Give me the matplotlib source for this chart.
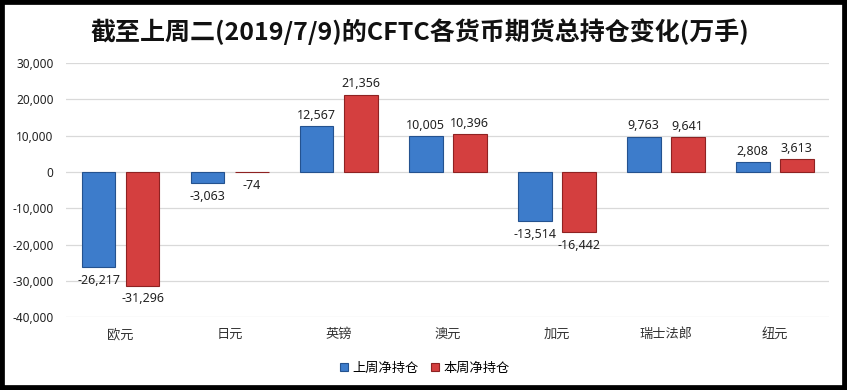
import matplotlib
matplotlib.use("Agg")
import matplotlib.pyplot as plt
import numpy as np
from matplotlib.patches import Rectangle
from matplotlib.ticker import FuncFormatter

plt.rcParams['font.family'] = ['Noto Sans CJK SC', 'DejaVu Sans']

categories = ['欧元', '日元', '英镑', '澳元', '加元', '瑞士法郎', '纽元']
last_week = [-26217, -3063, 12567, 10005, -13514, 9763, 2808]
this_week = [-31296, -74, 21356, 10396, -16442, 9641, 3613]
series_names = ['上周净持仓', '本周净持仓']
title = '截至上周二(2019/7/9)的CFTC各货币期货总持仓变化(万手)'

fig = plt.figure(figsize=(8.47, 3.90), dpi=100)
ax = fig.add_axes([0.078, 0.187, 0.901, 0.651])

x = np.arange(len(categories))
w = 0.31
off = 0.202
blue = '#3D7CCB'
blue_edge = '#24528F'
red = '#D43F3F'
red_edge = '#8E2222'

b1 = ax.bar(x - off, last_week, w, color=blue, edgecolor=blue_edge, linewidth=0.8,
            label=series_names[0], zorder=3)
b2 = ax.bar(x + off, this_week, w, color=red, edgecolor=red_edge, linewidth=0.8,
            label=series_names[1], zorder=3)

def fmt(v):
    return f'{v:,}'

for bars, vals in ((b1, last_week), (b2, this_week)):
    for rect, v in zip(bars, vals):
        cx = rect.get_x() + rect.get_width() / 2
        if v >= 0:
            ax.annotate(fmt(v), (cx, v), xytext=(0, 3), textcoords='offset points',
                        ha='center', va='bottom', fontsize=9, color='#222222',
                        family=['Noto Sans', 'DejaVu Sans'])
        else:
            ax.annotate(fmt(v), (cx, v), xytext=(0, -5), textcoords='offset points',
                        ha='center', va='top', fontsize=9, color='#222222',
                        family=['Noto Sans', 'DejaVu Sans'])

ax.set_ylim(-40000, 30000)
ax.set_yticks(np.arange(-40000, 30001, 10000))
ax.yaxis.set_major_formatter(FuncFormatter(lambda v, p: f'{int(v):,}'))
ax.set_xlim(-0.5, len(categories) - 0.5)
ax.set_xticks(x)
ax.set_xticklabels(categories, fontsize=9.5, color='#333333')
for lab in ax.get_yticklabels():
    lab.set_fontsize(8.5)
    lab.set_color('#222222')
    lab.set_family(['Noto Sans', 'DejaVu Sans'])
ax.tick_params(axis='both', length=0)
ax.tick_params(axis='y', pad=9)
ax.tick_params(axis='x', pad=8)
ax.grid(axis='y', color='#D9D9D9', linewidth=0.9, zorder=0)
for s in ax.spines.values():
    s.set_visible(False)

fig.text(0.496, 0.918, title, ha='center', va='center', fontsize=18, fontweight='bold',
         color='#111111')

leg = ax.legend(loc='upper center', bbox_to_anchor=(0.47, -0.13), ncol=2, frameon=False,
                fontsize=9.5, handlelength=0.6, handleheight=0.6, handletextpad=0.3,
                columnspacing=1.0)

fig.patches.append(Rectangle((0, 0), 1, 1, transform=fig.transFigure, fill=False,
                             edgecolor='black', linewidth=7, zorder=10))

fig.savefig('out.png', dpi=100, facecolor='white')
